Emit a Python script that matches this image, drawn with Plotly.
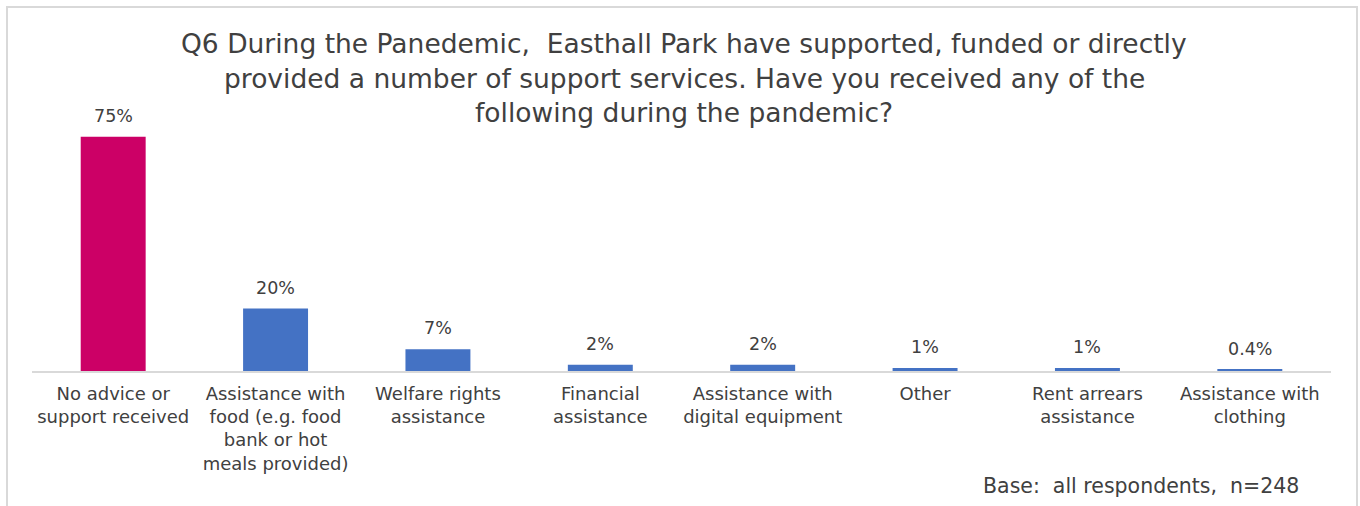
import plotly.graph_objects as go

# Survey responses (percent of respondents)
categories = [
    "No advice or<br>support received",
    "Assistance with<br>food (e.g. food<br>bank or hot<br>meals provided)",
    "Welfare rights<br>assistance",
    "Financial<br>assistance",
    "Assistance with<br>digital equipment",
    "Other",
    "Rent arrears<br>assistance",
    "Assistance with<br>clothing",
]
values = [75, 20, 7, 2, 2, 1, 1, 0.4]
value_labels = ["75%", "20%", "7%", "2%", "2%", "1%", "1%", "0.4%"]
bar_colors = ["#CC0066"] + ["#4472C4"] * 7

title_lines = [
    "Q6 During the Panedemic,  Easthall Park have supported, funded or directly",
    "provided a number of support services. Have you received any of the",
    "following during the pandemic?",
]
footnote = "Base:  all respondents,  n=248"

TEXT = "#404040"
FONT = "DejaVu Sans"

W, H = 1360, 506
L, R, T, B = 32, 29, 121, 135
plot_h = H - T - B
plot_w = W - L - R


def py(px_from_top):
    """paper y coordinate for a pixel row of the page"""
    return (H - B - px_from_top) / plot_h


def px(px_from_left):
    return (px_from_left - L) / plot_w


fig = go.Figure(
    go.Bar(
        x=categories,
        y=values,
        marker=dict(color=bar_colors, line=dict(width=0)),
        width=0.4,
        hoverinfo="skip",
    )
)

# value labels above each bar
for c, v, lab in zip(categories, values, value_labels):
    fig.add_annotation(
        x=c, y=v, text=lab, showarrow=False,
        yanchor="bottom", yshift=9,
        font=dict(family=FONT, size=17.5, color=TEXT),
    )

# title, one annotation per line for even spacing
for i, line in enumerate(title_lines):
    fig.add_annotation(
        xref="paper", yref="paper",
        x=px(684), y=py(44 + 34 * i),
        xanchor="center", yanchor="middle",
        text=line, showarrow=False,
        font=dict(family=FONT, size=26.5, color=TEXT),
    )

# footnote
fig.add_annotation(
    xref="paper", yref="paper",
    x=px(1301), y=py(486),
    xanchor="right", yanchor="middle",
    text=footnote, showarrow=False,
    font=dict(family=FONT, size=20.5, color=TEXT),
)

# chart frame
fig.add_shape(
    type="rect", xref="paper", yref="paper",
    x0=px(7), x1=px(1357),
    y0=py(530), y1=py(7),
    line=dict(color="#D9D9D9", width=2), fillcolor="rgba(0,0,0,0)",
    layer="below",
)

fig.update_layout(
    width=W, height=H,
    margin=dict(l=L, r=R, t=T, b=B),
    paper_bgcolor="white", plot_bgcolor="white",
    showlegend=False,
    xaxis=dict(
        showline=True, linecolor="#D9D9D9", linewidth=2,
        ticks="", tickfont=dict(family=FONT, size=18, color=TEXT),
        ticklabelstandoff=5,
        showgrid=False, zeroline=False, tickangle=0,
    ),
    yaxis=dict(range=[0, 80], visible=False, showgrid=False, zeroline=False),
)

fig.write_html("out.html")
